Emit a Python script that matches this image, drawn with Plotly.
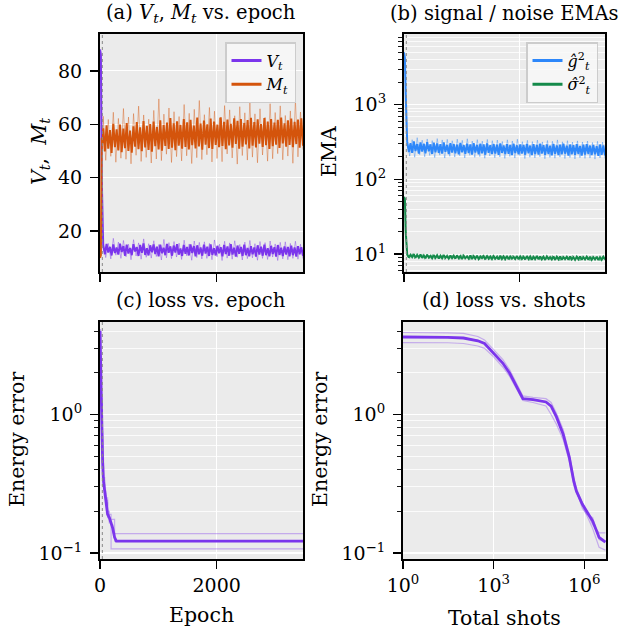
import numpy as np
import plotly.graph_objects as go

# ---------------- data ----------------
warmup_epoch = 40
epoch_max = 3480

# (a) V_t, M_t  -- transient epochs, then steady-state samples
trans_epochs = [0, 15, 30, 45]
V_trans_raw = [88, 87, 42, 16]
V_trans_ema = [88, 86, 40, 15]
M_trans_raw = [10, 12, 57, 50]
M_trans_ema = [10, 11, 55, 53]

V_ema = [14.6, 11.3, 15.2, 12.0, 14.1, 10.9, 15.0, 11.8, 13.9, 11.2,
         15.3, 12.2, 14.4, 10.8, 14.9, 11.6, 13.7, 11.0, 15.1, 12.4,
         14.0, 10.7, 14.8, 11.9, 15.4, 11.1, 13.6, 10.9, 14.7, 12.1,
         15.0, 11.4, 14.2, 10.6, 14.9, 11.7, 13.8, 11.0, 15.2, 11.9,
         14.3, 10.8, 14.6, 12.0, 15.1, 11.2, 13.5, 10.7, 14.8, 11.5,
         14.1, 10.9, 15.0, 11.8, 14.4, 10.6, 14.7, 11.3, 13.9, 10.8,
         14.9, 11.6, 14.2, 10.7, 15.0, 11.1, 13.6, 10.9, 14.5, 11.7,
         14.0, 10.6, 14.8, 11.4, 14.3, 10.8, 15.1, 11.2, 13.8, 10.5,
         14.6, 11.5, 14.1, 10.7, 14.9, 11.0, 13.7, 10.6, 14.4, 11.3,
         13.9, 10.5, 14.7, 11.2, 14.2, 10.8, 14.9, 11.0, 13.6, 10.6,
         14.5, 11.4, 14.0, 10.5, 14.8, 11.1, 13.8, 10.7, 14.3, 11.2,
         14.1, 10.6, 14.6, 11.0, 13.9, 10.5, 14.4, 11.3, 14.0, 10.8]
V_raw = [16.2, 10.1, 15.4, 9.6, 17.3, 11.0, 15.9, 9.8, 16.5, 10.4,
         15.1, 9.3, 16.8, 10.7, 15.6, 9.5, 17.1, 10.2, 15.3, 9.9,
         16.4, 10.5, 15.0, 9.2, 16.9, 10.0, 15.7, 9.7, 16.1, 10.3,
         15.5, 9.4, 16.6, 10.8, 15.2, 9.1, 16.3, 10.1, 15.8, 9.6,
         16.0, 9.8, 15.4, 9.3, 16.7, 10.4, 15.1, 9.0, 16.2, 9.9,
         15.6, 9.5, 16.4, 10.2, 15.0, 9.2, 15.9, 9.7, 16.5, 10.0,
         15.3, 9.1, 16.1, 9.8, 15.7, 9.4, 16.3, 10.3, 15.2, 9.0,
         15.8, 9.6, 16.0, 9.3, 15.4, 9.8, 16.2, 9.5, 15.1, 9.7]
M_ema = [58.5, 49.8, 59.6, 50.9, 57.8, 49.3, 60.2, 51.4, 58.1, 50.2,
         59.9, 49.6, 58.4, 51.1, 60.5, 50.0, 57.6, 49.4, 59.2, 51.6,
         60.8, 50.7, 58.9, 49.9, 61.2, 51.3, 59.4, 50.4, 60.1, 49.7,
         61.0, 51.8, 59.0, 50.6, 61.5, 50.1, 59.7, 51.9, 60.6, 50.8,
         62.3, 51.2, 60.4, 50.3, 61.1, 52.0, 59.8, 50.9, 62.0, 51.5,
         60.7, 50.6, 61.7, 52.2, 59.5, 51.0, 62.5, 51.7, 60.3, 50.5,
         61.4, 52.4, 60.0, 51.1, 62.1, 50.8, 61.0, 52.3, 59.9, 51.4,
         62.6, 51.9, 60.9, 50.7, 61.8, 52.1, 60.2, 51.2, 62.2, 52.6,
         61.3, 50.9, 62.0, 51.6, 60.5, 52.5, 61.6, 51.0, 62.4, 52.0,
         60.8, 51.3, 61.9, 52.7, 60.1, 51.5, 62.3, 52.2, 61.0, 50.8,
         62.0, 51.8, 60.6, 52.4, 61.7, 51.1, 62.5, 52.8, 60.4, 51.6,
         61.5, 52.3, 62.1, 51.4, 60.9, 52.6, 61.8, 51.2, 62.2, 52.0]
M_raw = [63.0, 46.5, 61.8, 48.0, 64.5, 45.8, 62.2, 47.3, 65.9, 46.9,
         62.7, 45.2, 64.0, 48.4, 66.8, 46.1, 63.5, 47.6, 61.9, 45.5,
         65.2, 47.0, 69.5, 46.4, 63.8, 48.8, 66.1, 45.7, 64.7, 47.9,
         62.9, 46.3, 67.4, 48.2, 64.1, 45.3, 65.6, 47.5, 68.9, 46.8,
         63.6, 48.6, 66.3, 45.9, 64.9, 47.2, 62.4, 46.0, 67.0, 48.9,
         65.4, 47.4, 63.2, 45.1, 66.6, 48.3, 64.3, 46.6, 68.2, 47.7,
         63.9, 45.6, 65.8, 48.5, 62.6, 46.2, 67.7, 47.1, 64.4, 49.0,
         66.9, 46.7, 63.3, 48.1, 65.0, 45.4, 69.0, 47.8, 64.6, 50.5]

# (b) signal / noise EMAs
g2_trans_raw = [5100, 4300, 1500, 340]
g2_trans_ema = [5000, 4200, 1400, 320]
s2_trans_raw = [59, 56, 21, 10.5]
s2_trans_ema = [58, 55, 20, 10.2]
g2_ema = [318, 232, 305, 226, 322, 240, 298, 221, 312, 236,
          300, 224, 316, 238, 295, 219, 310, 230, 303, 226,
          296, 221, 312, 234, 290, 218, 305, 228, 299, 223,
          292, 216, 308, 231, 288, 220, 301, 225, 294, 215,
          306, 229, 289, 217, 300, 224, 293, 214, 303, 227,
          287, 219, 298, 222, 291, 213, 304, 226, 285, 218,
          297, 220, 290, 212, 301, 225, 286, 216, 295, 221,
          289, 214, 299, 223, 284, 211, 296, 219, 290, 215,
          302, 222, 287, 213, 294, 218, 283, 210, 298, 220,
          286, 212, 292, 217, 300, 221, 282, 209, 293, 216,
          288, 214, 296, 219, 281, 208, 291, 215, 297, 218,
          284, 211, 290, 216, 279, 207, 293, 213, 286, 210]
g2_raw = [355, 205, 340, 198, 362, 214, 335, 201, 348, 209,
          331, 196, 352, 211, 338, 193, 344, 204, 329, 199,
          346, 207, 333, 194, 350, 210, 326, 197, 341, 202,
          325, 192, 343, 206, 330, 195, 337, 200, 322, 191,
          339, 203, 327, 193, 345, 208, 320, 190, 334, 198,
          321, 194, 336, 201, 318, 189, 332, 197, 324, 192,
          338, 199, 319, 190, 330, 196, 316, 188, 328, 195,
          317, 191, 326, 193, 312, 187, 323, 194, 315, 190]
s2_ema = [9.9, 9.0, 9.8, 9.1, 10.0, 8.9, 9.7, 9.0, 9.9, 8.9,
          9.6, 8.8, 9.8, 9.0, 9.5, 8.8, 9.7, 8.9, 9.6, 8.7,
          9.5, 8.8, 9.7, 8.9, 9.4, 8.7, 9.6, 8.8, 9.5, 8.7,
          9.6, 8.8, 9.4, 8.6, 9.5, 8.8, 9.3, 8.7, 9.6, 8.6,
          9.4, 8.7, 9.5, 8.6, 9.3, 8.8, 9.4, 8.5, 9.5, 8.7,
          9.3, 8.6, 9.4, 8.7, 9.2, 8.5, 9.5, 8.6, 9.3, 8.6,
          9.4, 8.5, 9.3, 8.7, 9.2, 8.6, 9.4, 8.5, 9.3, 8.6,
          9.2, 8.5, 9.4, 8.6, 9.3, 8.4, 9.2, 8.6, 9.4, 8.5,
          9.3, 8.5, 9.2, 8.4, 9.3, 8.6, 9.1, 8.5, 9.3, 8.4,
          9.2, 8.5, 9.3, 8.4, 9.1, 8.6, 9.2, 8.4, 9.3, 8.5,
          9.1, 8.4, 9.2, 8.5, 9.3, 8.4, 9.1, 8.5, 9.2, 8.4,
          9.2, 8.4, 9.1, 8.5, 9.2, 8.3, 9.1, 8.4, 9.2, 8.5]
s2_raw = [10.3, 8.7, 10.1, 8.6, 10.2, 8.8, 9.9, 8.5, 10.0, 8.7,
          9.9, 8.5, 10.1, 8.6, 9.8, 8.4, 9.9, 8.6, 9.7, 8.5,
          9.8, 8.4, 9.9, 8.5, 9.7, 8.3, 9.8, 8.5, 9.6, 8.4,
          9.7, 8.3, 9.8, 8.4, 9.6, 8.3, 9.7, 8.4, 9.5, 8.2,
          9.6, 8.3, 9.7, 8.4, 9.5, 8.2, 9.6, 8.3, 9.5, 8.2,
          9.5, 8.2, 9.6, 8.3, 9.4, 8.2, 9.5, 8.3, 9.6, 8.2,
          9.4, 8.1, 9.5, 8.2, 9.4, 8.2, 9.6, 8.3, 9.4, 8.1,
          9.5, 8.2, 9.4, 8.1, 9.5, 8.2, 9.3, 8.1, 9.4, 8.2]

# (c) loss vs epoch
loss_epochs = [0, 10, 20, 30, 45, 60, 80, 100, 130, 160, 190, 220, 250, 280, 3480]
loss_mean = [4.0, 2.5, 1.3, 0.7, 0.45, 0.33, 0.27, 0.24, 0.19, 0.18, 0.165, 0.15, 0.13, 0.122, 0.122]
loss_run1 = [4.1, 2.6, 1.4, 0.75, 0.48, 0.35, 0.28, 0.25, 0.2, 0.19, 0.175, 0.175, 0.138, 0.138, 0.138]
loss_run2 = [3.9, 2.4, 1.2, 0.65, 0.42, 0.31, 0.26, 0.23, 0.18, 0.17, 0.107, 0.107, 0.107, 0.107, 0.107]
loss_run3 = [4.0, 2.5, 1.3, 0.7, 0.45, 0.33, 0.27, 0.24, 0.19, 0.165, 0.16, 0.14, 0.122, 0.122, 0.122]

# (d) loss vs total shots
shots = [1, 3, 10, 30, 100, 300, 500, 1000, 2000, 3400, 6000, 9300, 2e4, 5.4e4, 8e4, 1.2e5, 2e5,
         3.2e5, 4.5e5, 5.5e5, 8.7e5, 1.2e6, 1.9e6, 3.1e6, 5e6]
shots_mean = [3.62, 3.62, 3.61, 3.6, 3.56, 3.4, 3.25, 2.78, 2.35, 1.98, 1.55, 1.3, 1.28, 1.23, 1.15,
              0.96, 0.72, 0.49, 0.33, 0.28, 0.225, 0.2, 0.17, 0.13, 0.12]
shots_run1 = [3.9, 3.9, 3.89, 3.88, 3.84, 3.65, 3.45, 2.95, 2.5, 2.1, 1.62, 1.36, 1.33, 1.3, 1.22,
              1.02, 0.78, 0.52, 0.35, 0.29, 0.23, 0.2, 0.16, 0.14, 0.14]
shots_run2 = [3.3, 3.3, 3.3, 3.29, 3.25, 3.12, 3.0, 2.6, 2.2, 1.88, 1.5, 1.26, 1.22, 1.15, 1.0,
              0.85, 0.66, 0.46, 0.31, 0.27, 0.22, 0.19, 0.15, 0.11, 0.105]
shots_run3 = [3.62, 3.62, 3.61, 3.6, 3.56, 3.42, 3.27, 2.8, 2.36, 2.0, 1.56, 1.3, 1.29, 1.24, 1.16,
              0.98, 0.74, 0.5, 0.34, 0.28, 0.21, 0.19, 0.18, 0.125, 0.12]

# ---------------- style ----------------
FONT = "DejaVu Serif"
PURPLE = "#7B35EC"
ORANGE = "#D4540C"
BLUE = "#2D87FA"
GREEN = "#148A4A"
BG = "#EBEBEB"


def steady_x(vals):
    return list(np.linspace(55, epoch_max, len(vals)))


fig = go.Figure()


def add(x, y, color, width, opacity, xa, ya, name=None, legend=None, shape="linear"):
    fig.add_trace(go.Scatter(
        x=x, y=y, mode="lines", line=dict(color=color, width=width, shape=shape),
        opacity=opacity, xaxis=xa, yaxis=ya, name=name or "",
        showlegend=name is not None, legend=legend, hoverinfo="skip"))


# (a)
add(trans_epochs + steady_x(M_raw), M_trans_raw + M_raw, ORANGE, 1, 0.4, "x", "y")
add(trans_epochs + steady_x(V_raw), V_trans_raw + V_raw, PURPLE, 1, 0.4, "x", "y")
add(trans_epochs + steady_x(V_ema), V_trans_ema + V_ema, PURPLE, 2, 1, "x", "y")
add(trans_epochs + steady_x(M_ema), M_trans_ema + M_ema, ORANGE, 2, 1, "x", "y")
# (b)
add(trans_epochs + steady_x(g2_raw), g2_trans_raw + g2_raw, BLUE, 1, 0.4, "x2", "y2")
add(trans_epochs + steady_x(s2_raw), s2_trans_raw + s2_raw, GREEN, 1, 0.4, "x2", "y2")
add(trans_epochs + steady_x(g2_ema), g2_trans_ema + g2_ema, BLUE, 2, 1, "x2", "y2")
add(trans_epochs + steady_x(s2_ema), s2_trans_ema + s2_ema, GREEN, 2, 1, "x2", "y2")
# legend entries (line samples drawn a little thicker, as in the reference)
add([None], [None], PURPLE, 3, 1, "x", "y", "<i>V</i><sub><i>t</i></sub>", "legend")
add([None], [None], ORANGE, 3, 1, "x", "y", "<i>M</i><sub><i>t</i></sub>", "legend")
add([None], [None], BLUE, 3, 1, "x2", "y2",
    "<i>g\u0302</i><sup>2</sup><sub><i>t</i></sub>", "legend2")
add([None], [None], GREEN, 3, 1, "x2", "y2",
    "<i>\u03c3\u0302</i><sup>2</sup><sub><i>t</i></sub>", "legend2")
# (c)
for run in (loss_run1, loss_run2, loss_run3):
    add(loss_epochs, run, PURPLE, 1.2, 0.35, "x3", "y3", shape="hv")
add(loss_epochs, loss_mean, PURPLE, 2.8, 1, "x3", "y3")
# (d)
for run in (shots_run1, shots_run2, shots_run3):
    add(shots, run, PURPLE, 1.2, 0.35, "x4", "y4")
add(shots, shots_mean, PURPLE, 2.8, 1, "x4", "y4")

W, H = 621, 634
dom = {
    "a": ([100 / W, 303 / W], [1 - 272 / H, 1 - 34 / H]),
    "b": ([404 / W, 605 / W], [1 - 272 / H, 1 - 34 / H]),
    "c": ([100 / W, 303 / W], [1 - 559 / H, 1 - 322 / H]),
    "d": ([403 / W, 606 / W], [1 - 559 / H, 1 - 322 / H]),
}

tickfont = dict(family=FONT, size=19, color="black")
base = dict(showline=True, mirror=True, linecolor="black", linewidth=2, ticks="outside",
            ticklen=8, tickwidth=1.3, tickcolor="black", gridcolor="white", gridwidth=1.1,
            zeroline=False, tickfont=tickfont, showgrid=True, automargin=False)
ybase = dict(base, ticklabelstandoff=4)

minor_log = dict(tickmode="array", ticks="outside", ticklen=4, tickcolor="black", tickwidth=0.9,
                 showgrid=True, gridcolor="white", gridwidth=0.8)
minor_hi = [v * 10 ** e for e in range(0, 4) for v in range(2, 10)]
minor_lo = [v * 10 ** e for e in range(-2, 1) for v in range(2, 10)]

fig.update_layout(
    template="none",
    width=W, height=H, margin=dict(l=0, r=0, t=0, b=0, pad=0), autosize=False,
    paper_bgcolor="white", plot_bgcolor=BG,
    font=dict(family=FONT, color="black"),
    xaxis=dict(base, domain=dom["a"][0], range=[0, epoch_max], tickvals=[0, 2000],
               showticklabels=False, anchor="y"),
    yaxis=dict(ybase, domain=dom["a"][1], range=[4.7, 93.8], tickvals=[20, 40, 60, 80], anchor="x"),
    xaxis2=dict(base, domain=dom["b"][0], range=[0, epoch_max], tickvals=[0, 2000],
                showticklabels=False, anchor="y2"),
    yaxis2=dict(ybase, domain=dom["b"][1], type="log", range=[0.76, 3.947],
                tickvals=[10, 100, 1000], ticktext=["10<sup>1</sup>", "10<sup>2</sup>", "10<sup>3</sup>"],
                minor=dict(minor_log, tickvals=minor_hi), anchor="x2"),
    xaxis3=dict(base, domain=dom["c"][0], range=[0, epoch_max], tickvals=[0, 2000],
                ticktext=["0", "2000"], anchor="y3"),
    yaxis3=dict(ybase, domain=dom["c"][1], type="log", range=[-1.043, 0.667],
                tickvals=[0.1, 1], ticktext=["10<sup>\u22121</sup>", "10<sup>0</sup>"],
                minor=dict(minor_log, tickvals=minor_lo), anchor="x3"),
    xaxis4=dict(base, domain=dom["d"][0], type="log", range=[0, 6.72],
                tickvals=[1, 1000, 1e6], ticktext=["10<sup>0</sup>", "10<sup>3</sup>", "10<sup>6</sup>"],
                anchor="y4"),
    yaxis4=dict(ybase, domain=dom["d"][1], type="log", range=[-1.043, 0.667],
                tickvals=[0.1, 1], ticktext=["10<sup>\u22121</sup>", "10<sup>0</sup>"],
                minor=dict(minor_log, tickvals=minor_lo), anchor="x4"),
    legend=dict(x=296 / W, y=1 - 42 / H, xanchor="right", yanchor="top",
                bgcolor="rgba(248,248,248,0.85)", bordercolor="#CCCCCC", borderwidth=1.5,
                font=dict(family=FONT, size=16), itemwidth=30, tracegroupgap=0),
    legend2=dict(x=598 / W, y=1 - 42 / H, xanchor="right", yanchor="top",
                 bgcolor="rgba(248,248,248,0.85)", bordercolor="#CCCCCC", borderwidth=1.5,
                 font=dict(family=FONT, size=16), itemwidth=30, tracegroupgap=0),
)

# warm-up marker lines
for xa, ya in (("x", "y"), ("x2", "y2"), ("x3", "y3")):
    fig.add_shape(type="line", xref=xa, yref=f"{ya} domain", x0=warmup_epoch, x1=warmup_epoch,
                  y0=0, y1=1, line=dict(color="#888888", width=1, dash="dot"))

# titles and axis labels
titles = [
    ("(a) <i>V</i><sub><i>t</i></sub>, <i>M</i><sub><i>t</i></sub> vs. epoch", 201 / W, 1 - 14 / H, 0),
    ("(b) signal / noise EMAs", 505 / W, 1 - 14 / H, 0),
    ("(c) loss vs. epoch", 201 / W, 1 - 301 / H, 0),
    ("(d) loss vs. shots", 504 / W, 1 - 301 / H, 0),
]
labels = [
    ("<i>V</i><sub><i>t</i></sub>,  <i>M</i><sub><i>t</i></sub>", 40 / W, 1 - 152 / H, -90),
    ("EMA", 329 / W, 1 - 152 / H, -90),
    ("Energy error", 17 / W, 1 - 440 / H, -90),
    ("Energy error", 320 / W, 1 - 440 / H, -90),
    ("Epoch", 201 / W, 1 - 615 / H, 0),
    ("Total shots", 504 / W, 1 - 618 / H, 0),
]
for group, size in ((titles, 19.5), (labels, 20.5)):
    for text, x, y, ang in group:
        fig.add_annotation(text=text, x=x, y=y, xref="paper", yref="paper", showarrow=False,
                           textangle=ang, xanchor="center", yanchor="middle",
                           font=dict(family=FONT, size=size, color="black"))

fig.write_html("out.html", config={"displayModeBar": False, "staticPlot": True},
               post_script="document.body.style.margin='0px';")
